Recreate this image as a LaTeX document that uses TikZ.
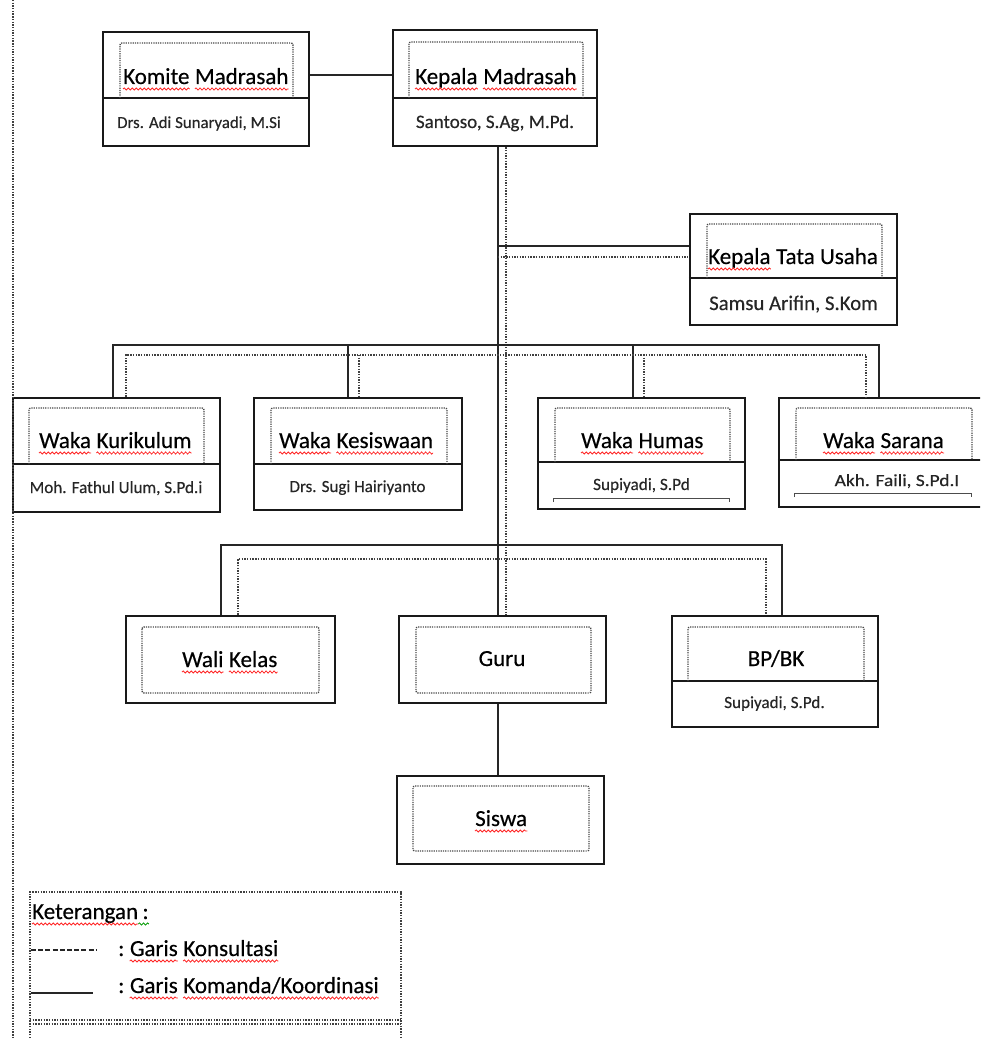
\documentclass[tikz,border=0pt]{standalone}
\usepackage{fontspec}
\setmainfont{Carlito}[FakeBold=0.4]
\usepackage{graphicx}
\usetikzlibrary{decorations.pathmorphing}
\newcommand\sqline[2][red!85!white]{\draw[squig,draw=#1] ([yshift=-5pt]#2.base west) -- ([yshift=-5pt]#2.base east);}
\tikzset{
 box/.style={draw=black!90,line width=2.4pt,rectangle,inner sep=0pt},
 divl/.style={draw=black!90,line width=2.1pt},
 sol/.style={draw=black!85,line width=2.1pt},
 dot/.style={draw=black!75,line width=1.9pt,dash pattern=on 1.4pt off 1.3pt},
 idot/.style={draw=black!72,line width=1.4pt,dash pattern=on 1.2pt off 1.1pt,rounded corners=2pt},
 ttl/.style={inner sep=0pt,anchor=base west,font=\fontsize{23}{27}\selectfont,text=black},
 sub/.style={inner sep=0pt,anchor=base,text=black!85},
 brk/.style={draw=black!70,line width=1pt},
 squig/.style={decorate,decoration={snake,segment length=4pt,amplitude=1.1pt},line width=0.8pt},
}
\begin{document}
\begin{tikzpicture}[x=1pt,y=-1pt]
\useasboundingbox (0,0) rectangle (980,1038);
\clip (0,0) rectangle (980,1038);
% boxes
\node[box,minimum width=206,minimum height=114] (komite) at (206,89) {};
\node[box,minimum width=204,minimum height=116] (kepala) at (495,88) {};
\node[box,minimum width=207,minimum height=111] (ktu) at (793.5,269.5) {};
\node[box,minimum width=207,minimum height=114] (kur) at (116.5,455) {};
\node[box,minimum width=208,minimum height=112] (kes) at (358,454) {};
\node[box,minimum width=207,minimum height=111] (hum) at (641.5,453.5) {};
\node[box,minimum width=213,minimum height=109] (sar) at (885.5,452.5) {};
\node[box,minimum width=209,minimum height=87] (wali) at (230.5,659.5) {};
\node[box,minimum width=207,minimum height=87] (guru) at (502.5,659.5) {};
\node[box,minimum width=206,minimum height=111] (bpbk) at (775,671.5) {};
\node[box,minimum width=207,minimum height=88] (siswa) at (500.5,820) {};
% dividers
\draw[divl] (komite.west |- 0,98) -- (komite.east |- 0,98);
\draw[divl] (kepala.west |- 0,98) -- (kepala.east |- 0,98);
\draw[divl] (ktu.west |- 0,278) -- (ktu.east |- 0,278);
\draw[divl] (kur.west |- 0,464) -- (kur.east |- 0,464);
\draw[divl] (kes.west |- 0,464) -- (kes.east |- 0,464);
\draw[divl] (hum.west |- 0,462) -- (hum.east |- 0,462);
\draw[divl] (sar.west |- 0,460) -- (sar.east |- 0,460);
\draw[divl] (bpbk.west |- 0,681) -- (bpbk.east |- 0,681);
% inner dotted frames
\draw[idot] (120,98) |- (293,43) -- (293,98);
\draw[idot] (409,98) |- (583,42) -- (583,98);
\draw[idot] (707,278) |- (882,224) -- (882,278);
\draw[idot] (29,464) |- (204,408) -- (204,464);
\draw[idot] (271,464) |- (447,408) -- (447,464);
\draw[idot] (555,462) |- (730,408) -- (730,462);
\draw[idot] (796,460) |- (972,408) -- (972,460);
\draw[idot] (688,681) |- (864,627) -- (864,681);
\draw[idot] (142,627) rectangle (319,693);
\draw[idot] (416,627) rectangle (591,693);
\draw[idot] (413,786) rectangle (589,851);
% brackets
\draw[brk] (553,502) -- (553,498) -- (729,498) -- (729,502);
\draw[brk] (794,497) -- (794,493) -- (971,493) -- (971,497);
% titles (word by word)
\node[ttl] (komiteT) at (123,84) {Komite};
\node[ttl] (komiteT2) at ([xshift=5.2pt]komiteT.base east) {Madrasah};
\node[ttl] (kepalaT) at (415,84) {Kepala};
\node[ttl] (kepalaT2) at ([xshift=5.2pt]kepalaT.base east) {Madrasah};
\node[ttl] (ktuT) at (708,264) {Kepala};
\node[ttl] (ktuT2) at ([xshift=5.2pt]ktuT.base east) {Tata Usaha};
\node[ttl] (kurT) at (39,448) {Waka};
\node[ttl] (kurT2) at ([xshift=5.2pt]kurT.base east) {Kurikulum};
\node[ttl] (kesT) at (279,448) {Waka};
\node[ttl] (kesT2) at ([xshift=5.2pt]kesT.base east) {Kesiswaan};
\node[ttl] (humT) at (581,448) {Waka};
\node[ttl] (humT2) at ([xshift=5.2pt]humT.base east) {Humas};
\node[ttl] (sarT) at (823,448) {Waka};
\node[ttl] (sarT2) at ([xshift=5.2pt]sarT.base east) {Sarana};
\node[ttl] (waliT) at (182,667) {Wali};
\node[ttl] (waliT2) at ([xshift=5.2pt]waliT.base east) {Kelas};
\node[ttl,anchor=base] (guruT) at (502,666) {Guru};
\node[ttl,anchor=base] (bpbkT) at (776,666) {BP/BK};
\node[ttl] (siswaT) at (475,826) {Siswa};
\foreach \w in {komiteT,komiteT2,kepalaT,kepalaT2,ktuT,kurT,kurT2,kesT,kesT2,humT,humT2,sarT,sarT2,waliT,waliT2,siswaT}{\sqline{\w}}
% subtitles
\node[sub,anchor=base west,font=\fontsize{16.8}{20}\selectfont] (komiteS) at (117,128) {Drs. Adi Sunaryadi, M.Si};
\node[sub,font=\fontsize{19}{22}\selectfont] (kepalaS) at (495,128) {Santoso, S.Ag, M.Pd.};
\node[sub,font=\fontsize{20.8}{24}\selectfont] (ktuS) at (793.5,310) {Samsu Arifin, S.Kom};
\node[sub,font=\fontsize{17.1}{20}\selectfont] (kurS) at (116,493) {Moh. Fathul Ulum, S.Pd.i};
\node[sub,font=\fontsize{17}{20}\selectfont] (kesS) at (357.5,492) {Drs. Sugi Hairiyanto};
\node[sub,font=\fontsize{17.2}{20}\selectfont] (humS) at (641.5,490) {Supiyadi, S.Pd};
\node[sub,font=\fontsize{17}{20}\selectfont] (sarS) at (897,486) {\scalebox{1.14}[1]{Akh. Faili, S.Pd.I}};
\node[sub,font=\fontsize{17.1}{20}\selectfont] (bpbkS) at (774.5,708) {Supiyadi, S.Pd.};
% connectors
\coordinate (kk) at (0,75);
\draw[sol] (komite.east |- kk) -- (kepala.west |- kk);
\coordinate (trk) at (498,0);
\coordinate (dtrk) at (506,0);
\draw[sol] (kepala.south -| trk) -- (guru.north -| trk);
\draw[dot] (kepala.south -| dtrk) -- (guru.north -| dtrk);
\coordinate (ktuA) at (498,246);
\coordinate (ktuB) at (498,257);
\draw[sol] (ktuA) -- (ktuA -| ktu.west);
\draw[dot] (ktuB) -- (ktuB -| ktu.west);
% row 2
\coordinate (r2a) at (113,345); \coordinate (r2b) at (879,345);
\coordinate (r2c) at (348,345); \coordinate (r2d) at (633,345);
\draw[sol] (kur.north -| r2a) -- (r2a) -- (r2b) -- (sar.north -| r2b);
\draw[sol] (r2c) -- (kes.north -| r2c);
\draw[sol] (r2d) -- (hum.north -| r2d);
\coordinate (d2a) at (126,355); \coordinate (d2b) at (866,355);
\coordinate (d2c) at (359,355); \coordinate (d2d) at (644,355);
\draw[dot] (kur.north -| d2a) -- (d2a) -- (d2b) -- (sar.north -| d2b);
\draw[dot] (d2c) -- (kes.north -| d2c);
\draw[dot] (d2d) -- (hum.north -| d2d);
% row 3
\coordinate (r3a) at (221,545); \coordinate (r3b) at (782,545);
\draw[sol] (wali.north -| r3a) -- (r3a) -- (r3b) -- (bpbk.north -| r3b);
\coordinate (d3a) at (238,559); \coordinate (d3b) at (766,559);
\draw[dot] (wali.north -| d3a) -- (d3a) -- (d3b) -- (bpbk.north -| d3b);
\draw[sol] (guru.south -| trk) -- (siswa.north -| trk);
% left border
\draw[dot] (13,0) -- (13,1038);
% legend
\draw[dot] (30,1038) -- (30,892) -- (401,892) -- (401,1038);
\draw[dot] (30,1020) -- (401,1020);
\draw[dot] (30,1024) -- (401,1024);
\node[ttl] (legT) at (32,919) {Keterangan};
\node[ttl] (legC) at ([xshift=4pt]legT.base east) {:};
\sqline{legT}
\draw[squig,draw=green!60!black] ([yshift=-5pt]legT.base east) -- ([yshift=-5pt]legC.base east);
\draw[draw=black!85,line width=1.6pt,dash pattern=on 5pt off 2.2pt] (31,950) -- (97,950);
\draw[sol] (31,993) -- (93,993);
\node[ttl] (l1a) at (118,956) {:};
\node[ttl] (l1b) at ([xshift=5.2pt]l1a.base east) {Garis};
\node[ttl] (l1c) at ([xshift=5.2pt]l1b.base east) {Konsultasi};
\node[ttl] (l2a) at (118,993) {:};
\node[ttl] (l2b) at ([xshift=5.2pt]l2a.base east) {Garis};
\node[ttl] (l2c) at ([xshift=5.2pt]l2b.base east) {Komanda/Koordinasi};
\foreach \w in {l1b,l1c,l2b,l2c}{\sqline{\w}}
\end{tikzpicture}
\end{document}
